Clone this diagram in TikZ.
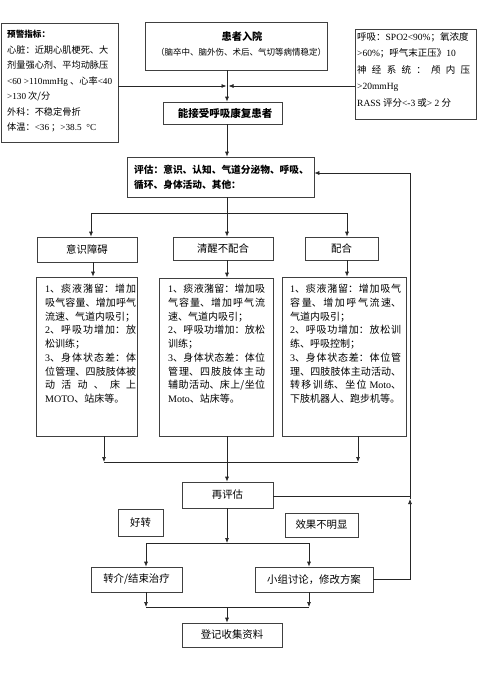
\documentclass[tikz,border=0pt]{standalone}
\usepackage{fontspec}
\setmainfont{Noto Sans CJK SC}
\newfontfamily\lat{Liberation Serif}
\usetikzlibrary{arrows.meta}
\XeTeXlinebreaklocale "zh"
\XeTeXlinebreakskip=0pt plus 2pt
\newcommand\fs[2]{\fontsize{#1}{#2}\selectfont}
\tikzset{
  box/.style={draw=black!75, line width=0.7pt, inner sep=0pt},
  ln/.style={draw=black!85, line width=0.7pt},
  arr/.style={draw=black!85, line width=0.7pt, -{Latex[length=5pt,width=4pt]}},
  txt/.style={inner sep=0pt, align=left, anchor=north west},
  jtxt/.style={inner sep=0pt, align=justify, anchor=north west, font=\fs{10}{13.75}},
  lab/.style={box, font=\fs{10.4}{12}},
}
\begin{document}
\begin{tikzpicture}[x=1pt,y=-1pt]
\fill[white] (0,0) rectangle (477,675);
\useasboundingbox (0,0) rectangle (477,675);

% top row
\node[box, minimum width=117pt, minimum height=119pt] (warn) at (59.5,82.5) {};
\node[txt, font=\fs{9.2}{15.5}] (warnt) at (7,30.4) {{\bfseries\fs{8.6}{15.5}预警指标：}\\心脏：近期心肌梗死、大\\剂量强心剂、平均动脉压\\{\lat <60 >110mmHg} 、心率{\lat <40}\\{\lat >130} 次/分\\外科：不稳定骨折\\体温：{\lat <36} ；{\lat >38.5 \ °C}};

\node[box, minimum width=182pt, minimum height=48pt] (admit) at (236,46) {};
\node[inner sep=0pt, font=\fs{10.2}{12}\bfseries] (admitt) at (242,37) {患者入院};
\node[inner sep=0pt, font=\fs{8.5}{10}] (admits) at (241,52) {（脑卒中、脑外伤、术后、气切等病情稳定）};

\node[box, minimum width=121pt, minimum height=90pt] (vital) at (415.5,74) {};
\node[txt, font=\fs{9.5}{16.5}] (vitalt) at (357,32.2) {呼吸：{\lat SPO2<90\%}；氧浓度\\{\lat >60\%}；呼气末正压》{\lat 10}\\\hbox to 113pt{神\hfil 经\hfil 系\hfil 统\hfil ：\hfil 颅\hfil 内\hfil 压}\\{\lat >20mmHg}\\{\lat RASS} 评分{\lat <-3} 或{\lat > 2} 分};

\node[box, minimum width=119pt, minimum height=22pt, font=\fs{10.5}{12}\bfseries] (accept) at (222.5,113) {\hspace{5pt}能接受呼吸康复患者};

\node[box, minimum width=187pt, minimum height=40pt] (assess) at (220.5,177) {};
\node[txt, font=\fs{9.7}{15}\bfseries] (assesst) at (134,165) {评估：意识、认知、气道分泌物、呼吸、\\循环、身体活动、其他：};

% level boxes
\node[lab, minimum width=100pt, minimum height=25pt] (b1) at (87,249.5) {意识障碍};
\node[lab, minimum width=100pt, minimum height=23pt] (b2) at (223,248.5) {清醒不配合};
\node[lab, minimum width=73pt, minimum height=23pt] (b3) at (341.5,248.5) {配合};

% detail boxes
\node[box, minimum width=101pt, minimum height=159pt] (d1) at (86.5,356.5) {};
\node[jtxt, text width=91pt] (d1t) at (45,284) {{\lat 1}、痰液潴留：增加\linebreak 吸气容量、增加呼气\linebreak 流速、气道内吸引；\\{\lat 2}、呼吸功增加：放\linebreak 松训练；\\{\lat 3}、身体状态差：体\linebreak 位管理、四肢肢体被\linebreak \hbox to 91pt{动\hfil 活\hfil 动\hfil 、\hfil 床\hfil 上}\\{\lat MOTO}、站床等。};

\node[box, minimum width=114pt, minimum height=158pt] (d2) at (216,357) {};
\node[jtxt, text width=97pt] (d2t) at (168,284) {{\lat 1}、痰液潴留：增加吸\linebreak 气容量、增加呼气流\linebreak 速、气道内吸引；\\{\lat 2}、呼吸功增加：放松\linebreak 训练；\\{\lat 3}、身体状态差：体位\linebreak 管理、四肢肢体主动\linebreak 辅助活动、床上/坐位\linebreak {\lat Moto}、站床等。};

\node[box, minimum width=124pt, minimum height=159pt] (d3) at (344,356.5) {};
\node[jtxt, text width=111pt] (d3t) at (290,284) {{\lat 1}、痰液潴留：增加吸气\linebreak 容量、增加呼气流速、\linebreak 气道内吸引；\\{\lat 2}、呼吸功增加：放松训\linebreak 练、呼吸控制；\\{\lat 3}、身体状态差：体位管\linebreak 理、四肢肢体主动活动、\linebreak 转移训练、坐位 {\lat Moto}、\linebreak 下肢机器人、跑步机等。};

% lower part
\node[lab, minimum width=91pt, minimum height=26pt] (re) at (227.5,495) {再评估};
\node[lab, minimum width=45pt, minimum height=27pt] (good) at (140.5,522.5) {好转\hspace{9pt}};
\node[lab, minimum width=73pt, minimum height=24pt] (noeff) at (321.5,525) {效果不明显\hspace{5pt}};
\node[lab, minimum width=91pt, minimum height=25pt] (transfer) at (136.5,579.5) {转介/结束治疗\hspace{12pt}};
\node[lab, minimum width=118pt, minimum height=25pt] (group) at (314,579.5) {小组讨论，修改方案\hspace{8pt}};
\node[lab, minimum width=100pt, minimum height=24pt] (record) at (232,635) {登记收集资料};

% coordinates
\coordinate (j1) at (227,86);
\coordinate (s0) at (227,213);
\coordinate (sL) at (91,213);
\coordinate (sR) at (347,213);
\coordinate (c1) at (93,270);
\coordinate (mL) at (104,462);
\coordinate (mR) at (358,462);
\coordinate (fb) at (410,496);
\coordinate (fbu) at (410,499);
\coordinate (fbt) at (410,173);
\coordinate (t0) at (227,543);
\coordinate (tL) at (146,543);
\coordinate (tR) at (309,543);
\coordinate (u0) at (227,607);
\coordinate (uL) at (146,607);
\coordinate (uR) at (309,607);

% connectors
\draw[arr] (warn.east |- j1) -- ([xshift=-0.5pt]j1);
\draw[arr] (vital.west |- j1) -- ([xshift=1.5pt]j1);
\draw[arr] (admit.south -| j1) -- (accept.north -| j1);
\draw[arr] (accept.south -| j1) -- (assess.north -| j1);

\draw[ln] (assess.south -| s0) -- (s0);
\draw[ln] (sL) -- (sR);
\draw[arr] (sL) -- (b1.north -| sL);
\draw[arr] (s0) -- (b2.north -| s0);
\draw[arr] (sR) -- (b3.north -| sR);

\draw[arr] (b1.south -| c1) -- (d1.north -| c1);
\draw[arr] (b2.south -| s0) -- (d2.north -| s0);
\draw[arr] (b3.south -| sR) -- (d3.north -| sR);

\draw[arr] (d1.south -| mL) -- (mL);
\draw[arr] (d3.south -| mR) -- (mR);
\draw[ln] (mL) -- (mR);
\draw[arr] (d2.south -| s0) -- (re.north -| s0);

\draw[ln] (re.east |- fb) -- (fb);
\draw[arr] (group.east) -- (group.east -| fb) -- (fbu);
\draw[arr] (fbu) -- (fbt) -- (assess.east |- fbt);

\draw[arr] (re.south -| t0) -- (t0);
\draw[ln] (tL) -- (tR);
\draw[arr] (tL) -- (transfer.north -| tL);
\draw[arr] (tR) -- (group.north -| tR);

\draw[arr] (transfer.south -| uL) -- (uL);
\draw[arr] (group.south -| uR) -- (uR);
\draw[ln] (uL) -- (uR);
\draw[arr] (u0) -- (record.north -| u0);
\end{tikzpicture}
\end{document}
